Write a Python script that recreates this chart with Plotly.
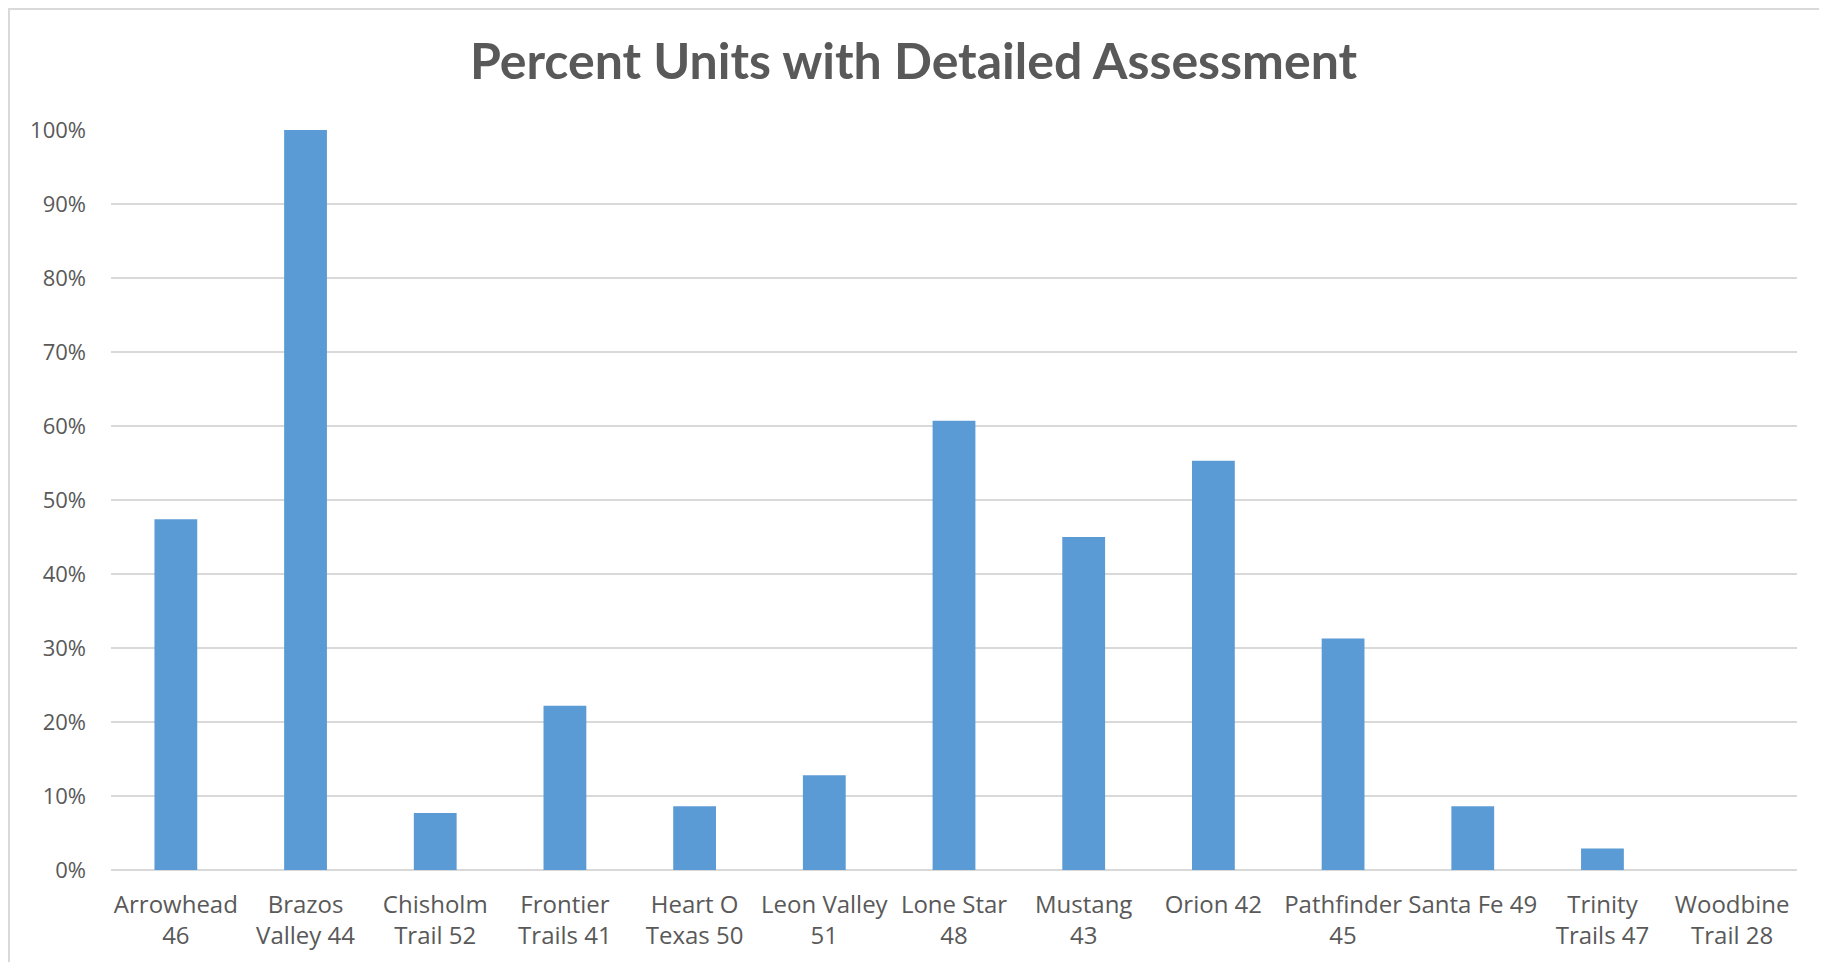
import plotly.graph_objects as go

categories = [
    "Arrowhead<br>46", "Brazos<br>Valley 44", "Chisholm<br>Trail 52", "Frontier<br>Trails 41",
    "Heart O<br>Texas 50", "Leon Valley<br>51", "Lone Star<br>48", "Mustang<br>43",
    "Orion 42", "Pathfinder<br>45", "Santa Fe 49", "Trinity<br>Trails 47", "Woodbine<br>Trail 28",
]
percent_detailed = [0.474, 1.00, 0.077, 0.222, 0.086, 0.128, 0.607, 0.450, 0.553, 0.313, 0.086, 0.029, 0.0]
y_ticks = [0, 0.1, 0.2, 0.3, 0.4, 0.5, 0.6, 0.7, 0.8, 0.9, 1.0]

# page body has an 8px margin; figure sized to fit inside the window
W, H = 1811, 954
ml, mr, mt, mb = 103, 22, 122, 92
pw, ph = W - ml - mr, H - mt - mb

fig = go.Figure(go.Bar(
    x=categories, y=percent_detailed,
    marker=dict(color="#5B9BD5", line=dict(width=0)),
    width=0.33,
))

fig.update_layout(
    width=W, height=H,
    margin=dict(l=ml, r=mr, t=mt, b=mb),
    paper_bgcolor="white", plot_bgcolor="white",
    title=dict(text="<b>Percent Units with Detailed Assessment</b>", x=0.5, xanchor="center",
               y=1 - 53 / H, yanchor="middle",
               font=dict(family="Lato, Open Sans, sans-serif", size=50, color="#595959")),
    font=dict(family="Open Sans, Lato, sans-serif", color="#595959"),
    showlegend=False,
    bargap=0.67,
)
fig.update_xaxes(showgrid=False, showline=False, zeroline=False, ticks="",
                 tickfont=dict(family="Open Sans, sans-serif", size=24, color="#595959"),
                 ticklabelstandoff=18)
fig.update_yaxes(range=[0, 1.0], tickvals=y_ticks, tickformat=".0%",
                 showgrid=True, gridcolor="#D9D9D9", gridwidth=1.5,
                 zeroline=True, zerolinecolor="#D9D9D9", zerolinewidth=2,
                 showline=False, ticks="", ticklabelstandoff=24,
                 tickfont=dict(family="Open Sans, sans-serif", size=22, color="#595959"))

# outer chart border (top and left visible)
fig.add_shape(type="rect", xref="paper", yref="paper",
              x0=(1 - ml) / pw, x1=(W + 10 - ml) / pw,
              y0=(H - mb - (H + 10)) / ph, y1=(H - mb - 1) / ph,
              line=dict(color="#D9D9D9", width=2), fillcolor="rgba(0,0,0,0)", layer="below")

fig.write_html("out.html")
